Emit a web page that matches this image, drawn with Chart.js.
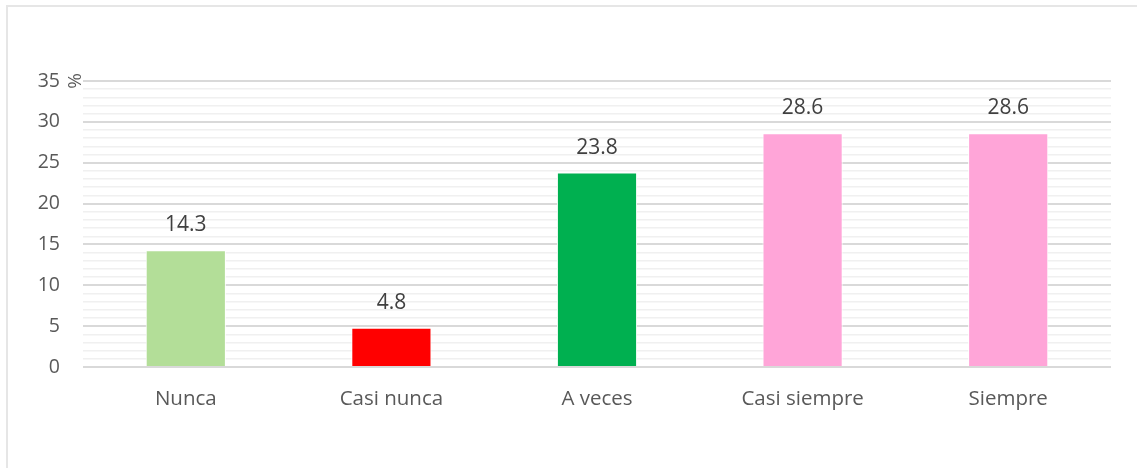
<!DOCTYPE html>
<html>
<head>
<meta charset="utf-8">
<script src="https://cdn.jsdelivr.net/npm/chart.js@4"></script>
<style>
  html, body { margin: 0; padding: 0; background: #fff; }
  #wrap { position: relative; width: 1137px; height: 468px; overflow: hidden; }
  #frame { position: absolute; left: 6px; top: 5px; width: 1200px; height: 600px;
           border-left: 2px solid #E6E6E6; border-top: 2px solid #E6E6E6; pointer-events: none; }
  canvas { position: absolute; left: 0; top: 0; }
</style>
</head>
<body>
<div id="wrap">
  <canvas id="c" width="1137" height="468"></canvas>
  <div id="frame"></div>
</div>
<script>
const categories = ["Nunca", "Casi nunca", "A veces", "Casi siempre", "Siempre"];
const values = [14.3, 4.8, 23.8, 28.6, 28.6];
const barColors = ["#B3DE98", "#FF0000", "#00B050", "#FFA5D8", "#FFA5D8"];
const yTickMin = 0;
const yTickMax = 35;
const yMajorStep = 5;
const yAxisTitle = "%";

const FONT = "'Open Sans', sans-serif";

const valueLabels = {
  id: 'valueLabels',
  afterDatasetsDraw(chart) {
    const ctx = chart.ctx;
    const meta = chart.getDatasetMeta(0);
    ctx.save();
    ctx.font = "21px " + FONT;
    ctx.fillStyle = "#404040";
    ctx.textAlign = "center";
    ctx.textBaseline = "middle";
    meta.data.forEach((bar, i) => {
      ctx.fillText(values[i].toFixed(1), bar.x, bar.y - 25);
    });
    ctx.restore();
  }
};

const axisTitle = {
  id: 'axisTitle',
  afterDraw(chart) {
    const ctx = chart.ctx;
    const y = chart.scales.y.getPixelForValue(yTickMax);
    ctx.save();
    ctx.translate(chart.chartArea.left - 7, y);
    ctx.rotate(-Math.PI / 2);
    ctx.font = "19px " + FONT;
    ctx.fillStyle = "#595959";
    ctx.textAlign = "center";
    ctx.textBaseline = "middle";
    ctx.fillText(yAxisTitle, 0, 0);
    ctx.restore();
  }
};

new Chart(document.getElementById('c'), {
  type: 'bar',
  data: {
    labels: categories,
    datasets: [{
      data: values,
      backgroundColor: barColors,
      borderColor: "#FFFFFF",
      borderWidth: 1,
      barPercentage: 0.39,
      categoryPercentage: 1.0
    }]
  },
  options: {
    responsive: false,
    animation: false,
    devicePixelRatio: 1,
    layout: { padding: { left: 0, right: 26, top: 81, bottom: 0 } },
    plugins: { legend: { display: false }, tooltip: { enabled: false } },
    scales: {
      x: {
        grid: { display: false },
        border: { display: false },
        ticks: { color: "#595959", font: { family: FONT, size: 20.5 }, padding: 12 },
        afterFit(scale) { scale.height = 101; }
      },
      y: {
        min: yTickMin,
        max: yTickMax,
        border: { display: false },
        grid: {
          drawTicks: false,
          color: (c) => (c.tick && c.tick.value % yMajorStep === 0) ? "#D9D9D9" : "#F0F0F0",
          lineWidth: (c) => (c.tick && c.tick.value % yMajorStep === 0) ? 2 : 1.5
        },
        ticks: {
          stepSize: 1,
          autoSkip: false,
          color: "#595959",
          font: { family: FONT, size: 19.5 },
          padding: 23,
          callback: (v) => (v % yMajorStep === 0) ? String(v) : ""
        },
        afterFit(scale) { scale.width = 83; }
      }
    }
  },
  plugins: [valueLabels, axisTitle]
});
</script>
</body>
</html>
